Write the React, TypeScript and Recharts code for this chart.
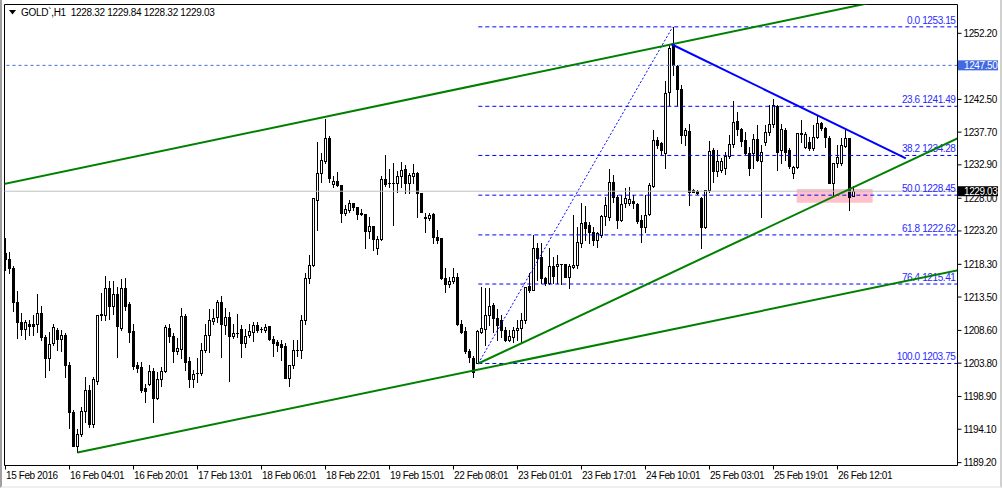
import React from 'react';
import { Bar, ComposedChart, ReferenceArea, ReferenceLine, XAxis, YAxis } from 'recharts';

// GOLD H1 candles (index 0 = 15 Feb 2016 12:01)
const opens = [
  1220.0, 1219.1, 1217.7, 1212.7, 1209.8, 1208.8, 1209.6, 1209.5, 1209.5, 1211.1,
  1207.7, 1204.5, 1206.7, 1208.6, 1207.3, 1207.9, 1203.6, 1196.7, 1191.7, 1193.4,
  1196.8, 1199.9, 1194.9, 1201.2, 1211.0, 1210.9, 1214.9, 1212.2, 1213.9, 1209.0,
  1214.9, 1212.5, 1208.5, 1203.5, 1203.2, 1200.2, 1200.8, 1202.6, 1198.7, 1201.5,
  1202.6, 1208.9, 1207.8, 1205.6, 1205.9, 1210.7, 1204.1, 1201.5, 1202.3, 1202.3,
  1205.8, 1207.9, 1210.0, 1210.5, 1212.8, 1209.4, 1210.5, 1207.8, 1208.2, 1208.8,
  1206.7, 1208.0, 1208.4, 1209.4, 1208.8, 1208.7, 1209.2, 1207.35, 1206.9, 1206.6,
  1206.3, 1201.6, 1203.5, 1205.7, 1205.7, 1210.2, 1216.25, 1218.2, 1227.8, 1231.75,
  1233.5, 1236.8, 1230.1, 1230.5, 1229.9, 1225.9, 1226.3, 1227.25, 1226.7, 1225.8,
  1225.65, 1223.2, 1223.9, 1220.65, 1222.0, 1230.8, 1230.3, 1230.3, 1230.3, 1231.2,
  1232.25, 1230.2, 1231.3, 1231.65, 1228.7, 1225.3, 1225.1, 1225.7, 1222.3, 1222.1,
  1216.25, 1215.4, 1215.9, 1216.5, 1209.5, 1208.5, 1205.65, 1204.6, 1203.8, 1208.4,
  1208.8, 1210.9, 1212.3, 1210.4, 1210.1, 1208.7, 1207.2, 1207.7, 1208.7, 1208.9,
  1210.1, 1215.1, 1214.6, 1220.65, 1219.4, 1216.25, 1215.5, 1218.1, 1218.1, 1218.3,
  1218.3, 1216.5, 1217.9, 1218.2, 1221.4, 1224.5, 1224.1, 1223.1, 1221.9, 1222.6,
  1225.4, 1225.25, 1230.4, 1228.2, 1224.8, 1227.25, 1227.25, 1227.6, 1227.1, 1224.8,
  1223.8, 1225.7, 1229.85, 1236.5, 1236.05, 1234.6, 1243.6, 1250.7, 1247.45, 1244.1,
  1237.3, 1237.9, 1229.2, 1229.05, 1228.0, 1223.8, 1229.2, 1235.1, 1232.0, 1232.15,
  1232.5, 1234.25, 1235.9, 1239.35, 1238.2, 1236.55, 1234.6, 1234.6, 1236.7, 1233.5,
  1236.3, 1237.75, 1238.85, 1241.5, 1235.1, 1238.0, 1235.1, 1231.75, 1232.6, 1237.6,
  1235.55, 1236.3, 1235.35, 1237.0, 1239.0, 1238.3, 1236.9, 1230.2, 1233.1, 1233.1,
  1235.7, 1236.8, 1228.32,
];
const highs = [
  1222.2, 1220.1, 1218.0, 1214.4, 1211.1, 1210.1, 1210.1, 1210.9, 1214.0, 1212.2,
  1207.9, 1208.3, 1209.6, 1208.9, 1208.6, 1208.2, 1204.0, 1196.9, 1194.1, 1197.4,
  1201.7, 1200.6, 1201.8, 1210.9, 1214.1, 1216.6, 1215.9, 1215.8, 1215.0, 1216.2,
  1216.3, 1212.7, 1209.6, 1204.0, 1203.9, 1200.7, 1203.5, 1203.1, 1202.5, 1203.3,
  1209.4, 1209.5, 1208.2, 1207.5, 1211.9, 1211.0, 1204.7, 1202.8, 1204.6, 1206.8,
  1209.5, 1211.7, 1211.7, 1213.0, 1213.7, 1211.85, 1211.35, 1209.6, 1211.0, 1209.4,
  1208.8, 1209.6, 1209.9, 1209.9, 1209.15, 1209.6, 1209.25, 1207.8, 1207.2, 1207.2,
  1206.7, 1203.5, 1207.2, 1207.2, 1210.9, 1217.1, 1219.7, 1228.0, 1236.2, 1234.6,
  1239.7, 1237.1, 1231.2, 1231.9, 1229.95, 1227.0, 1227.75, 1227.3, 1226.75, 1226.4,
  1225.7, 1225.3, 1223.95, 1222.45, 1231.2, 1234.35, 1232.25, 1233.1, 1232.0, 1233.3,
  1232.9, 1231.75, 1233.0, 1231.8, 1228.75, 1225.8, 1225.8, 1225.8, 1223.3, 1222.15,
  1217.7, 1216.5, 1217.7, 1217.1, 1210.1, 1209.15, 1205.9, 1204.85, 1208.7, 1215.0,
  1214.9, 1214.8, 1212.6, 1211.7, 1210.9, 1209.15, 1208.7, 1209.15, 1210.1, 1211.1,
  1215.0, 1217.0, 1222.6, 1221.4, 1221.4, 1216.5, 1220.65, 1219.4, 1219.7, 1218.35,
  1218.35, 1218.35, 1225.5, 1223.8, 1227.25, 1226.85, 1224.5, 1223.8, 1223.1, 1225.5,
  1228.2, 1232.25, 1231.4, 1228.5, 1228.5, 1229.45, 1229.7, 1228.5, 1227.25, 1225.5,
  1228.5, 1230.2, 1238.0, 1237.0, 1236.3, 1245.2, 1250.7, 1253.15, 1247.55, 1244.6,
  1238.3, 1238.85, 1229.35, 1229.2, 1228.2, 1229.2, 1236.4, 1235.35, 1235.1, 1233.85,
  1234.85, 1237.3, 1242.2, 1240.6, 1238.35, 1237.75, 1235.55, 1237.4, 1238.75, 1235.8,
  1238.75, 1241.7, 1242.6, 1241.7, 1238.9, 1238.3, 1235.4, 1232.7, 1237.6, 1239.5,
  1237.75, 1237.0, 1238.75, 1240.2, 1239.25, 1238.5, 1237.1, 1233.2, 1235.8, 1236.8,
  1238.0, 1236.9, 1229.84,
];
const lows = [
  1217.5, 1217.0, 1211.4, 1207.5, 1207.9, 1207.3, 1208.0, 1207.9, 1208.4, 1207.2,
  1201.8, 1202.8, 1206.5, 1205.7, 1205.6, 1201.7, 1194.3, 1191.6, 1190.7, 1193.1,
  1195.2, 1194.5, 1194.5, 1200.8, 1210.1, 1210.1, 1210.3, 1211.0, 1204.7, 1208.7,
  1211.6, 1206.9, 1203.0, 1202.5, 1199.6, 1198.1, 1200.6, 1195.2, 1198.6, 1200.4,
  1202.5, 1206.9, 1204.0, 1205.2, 1204.5, 1202.8, 1200.3, 1200.3, 1201.1, 1202.0,
  1205.5, 1205.5, 1209.5, 1209.9, 1204.7, 1208.1, 1201.2, 1207.5, 1207.7, 1204.7,
  1206.1, 1207.7, 1207.05, 1208.3, 1208.4, 1208.3, 1207.2, 1204.9, 1205.6, 1204.3,
  1201.55, 1200.5, 1203.1, 1204.85, 1204.5, 1209.6, 1215.6, 1218.0, 1223.4, 1230.4,
  1233.1, 1230.4, 1229.6, 1229.85, 1224.5, 1225.6, 1226.0, 1226.3, 1224.9, 1225.5,
  1220.65, 1222.1, 1220.4, 1219.8, 1221.9, 1229.8, 1229.7, 1224.1, 1228.95, 1229.7,
  1228.8, 1228.8, 1230.2, 1225.3, 1226.0, 1223.1, 1224.8, 1221.4, 1221.4, 1216.2,
  1214.3, 1215.0, 1215.5, 1209.45, 1208.25, 1205.25, 1204.0, 1201.8, 1203.75, 1208.2,
  1206.5, 1209.4, 1208.4, 1207.2, 1207.7, 1207.1, 1207.05, 1206.95, 1207.2, 1206.95,
  1209.65, 1214.3, 1214.5, 1216.0, 1215.5, 1215.3, 1215.4, 1215.5, 1215.5, 1215.4,
  1216.4, 1214.8, 1217.7, 1217.7, 1220.9, 1221.9, 1221.4, 1221.2, 1220.9, 1222.35,
  1224.1, 1224.8, 1227.5, 1223.7, 1224.6, 1226.75, 1227.0, 1226.5, 1224.3, 1221.6,
  1223.1, 1225.5, 1229.7, 1235.3, 1234.35, 1232.5, 1241.7, 1246.1, 1241.7, 1236.05,
  1235.8, 1227.0, 1228.85, 1228.6, 1220.75, 1223.6, 1228.95, 1230.4, 1231.2, 1231.9,
  1231.5, 1233.85, 1235.55, 1237.3, 1235.7, 1234.45, 1231.4, 1232.4, 1233.4, 1225.3,
  1235.8, 1237.3, 1238.5, 1232.15, 1233.1, 1233.6, 1232.4, 1230.9, 1232.4, 1236.3,
  1235.35, 1235.1, 1235.1, 1236.8, 1238.0, 1235.55, 1230.2, 1228.5, 1232.6, 1232.9,
  1235.55, 1226.3, 1228.32,
];
const closes = [
  1219.1, 1217.7, 1212.8, 1209.8, 1208.8, 1209.8, 1209.3, 1209.3, 1211.1, 1207.7,
  1204.5, 1206.6, 1209.1, 1207.3, 1207.9, 1203.6, 1196.7, 1191.7, 1193.4, 1196.8,
  1199.9, 1194.9, 1201.5, 1210.9, 1210.8, 1214.9, 1212.2, 1213.9, 1209.3, 1214.9,
  1212.2, 1208.4, 1203.4, 1203.1, 1199.9, 1199.7, 1202.6, 1198.7, 1201.5, 1202.6,
  1209.1, 1207.8, 1205.6, 1206.0, 1210.7, 1204.0, 1201.5, 1202.2, 1202.3, 1205.8,
  1207.9, 1210.1, 1210.4, 1212.8, 1209.5, 1210.6, 1207.8, 1208.2, 1208.2, 1206.7,
  1207.8, 1208.5, 1209.4, 1208.7, 1208.8, 1209.15, 1207.35, 1206.8, 1206.5, 1206.2,
  1201.6, 1203.5, 1205.8, 1205.8, 1210.2, 1216.25, 1218.2, 1228.0, 1231.65, 1233.6,
  1236.9, 1230.9, 1230.5, 1229.9, 1225.9, 1226.4, 1227.25, 1226.75, 1225.7, 1225.75,
  1223.2, 1223.9, 1222.0, 1222.0, 1230.8, 1230.1, 1230.3, 1230.3, 1231.2, 1232.1,
  1230.2, 1231.4, 1231.65, 1228.7, 1226.0, 1225.1, 1225.5, 1222.3, 1221.9, 1216.25,
  1215.4, 1215.9, 1216.5, 1209.5, 1208.4, 1205.6, 1204.7, 1202.5, 1208.45, 1208.9,
  1210.9, 1212.2, 1210.4, 1209.4, 1208.6, 1207.2, 1207.8, 1208.7, 1209.0, 1210.1,
  1215.0, 1214.5, 1220.65, 1219.3, 1216.25, 1215.5, 1218.1, 1216.6, 1218.35, 1218.3,
  1216.5, 1218.1, 1218.2, 1221.6, 1224.3, 1223.6, 1223.1, 1221.9, 1222.85, 1225.4,
  1227.0, 1230.4, 1228.2, 1224.8, 1227.1, 1228.0, 1227.85, 1227.25, 1224.7, 1223.8,
  1225.6, 1229.9, 1236.5, 1235.8, 1235.1, 1243.5, 1250.0, 1247.55, 1244.1, 1237.3,
  1238.0, 1228.95, 1228.95, 1228.7, 1223.8, 1229.2, 1234.9, 1232.0, 1233.4, 1233.5,
  1234.25, 1235.9, 1239.25, 1238.2, 1236.4, 1234.6, 1232.5, 1236.7, 1233.6, 1234.85,
  1237.75, 1238.85, 1241.7, 1234.85, 1238.1, 1234.8, 1232.7, 1232.6, 1237.5, 1237.4,
  1237.4, 1235.35, 1237.0, 1239.0, 1238.3, 1237.0, 1230.3, 1233.1, 1234.1, 1235.8,
  1236.8, 1228.2, 1229.03,
];

// time axis: bar index of each label
const timeTicks = [0, 16, 32, 48, 64, 80, 96, 112, 128, 144, 160, 176, 192, 208];
const timeLabels = [
  '15 Feb 2016', '16 Feb 04:01', '16 Feb 20:01', '17 Feb 13:01', '18 Feb 06:01',
  '18 Feb 22:01', '19 Feb 15:01', '22 Feb 08:01', '23 Feb 01:01', '23 Feb 17:01',
  '24 Feb 10:01', '25 Feb 03:01', '25 Feb 19:01', '26 Feb 12:01',
];

const priceTicks = [
  1252.2, 1247.3, 1242.5, 1237.7, 1232.9, 1228.0, 1223.2, 1218.3, 1213.5, 1208.6,
  1203.8, 1198.9, 1194.1, 1189.2,
];

// fibonacci retracement drawn from the 22 Feb low to the 24 Feb high
const fibPct = [0.0, 23.6, 38.2, 50.0, 61.8, 76.4, 100.0];
const fibPrice = [1253.15, 1241.49, 1234.28, 1228.45, 1222.62, 1215.41, 1203.75];
const fibStart = 118.2;

// trend lines, [bar index, price] pairs
const greenLines = [
  [[-2, 1229.9], [240, 1259.6]],
  [[18, 1190.7], [240, 1217.65]],
  [[118.2, 1203.75], [240, 1237.33]],
];
const blueLine = [[166.5, 1250.6], [225.1, 1233.86]];
const fibDiagonal = [[118.2, 1203.75], [166.8, 1253.15]];

const hLinePrice = 1247.5;
const lastPrice = 1229.03;
const pinkBox = { x1: 197.8, x2: 216.8, y1: 1227.35, y2: 1229.36 };

const xDomain = [-0.25, 238];
const yDomain = [1188.78, 1256.43];

const candles = opens.map((o, i) => ({ i, o, h: highs[i], l: lows[i], c: closes[i] }));
const last = candles[candles.length - 1];

const FONT = "'Liberation Sans', Arial, sans-serif";

const Candle = (props: any) => {
  const { x, y, width, height, payload } = props;
  if (x == null || y == null) return null;
  // snap to the pixel grid so wicks and bodies stay crisp
  const cx = Math.floor(x + width / 2) + 0.5;
  const top = Math.min(y, y + height);
  const span = Math.abs(height);
  const { o, h, l, c } = payload;
  const yOf = (v: number) => top + ((h - v) / (h - l || 1)) * span;
  const bTop = Math.round(yOf(Math.max(o, c))) + 0.5;
  const bBot = Math.round(yOf(Math.min(o, c))) + 0.5;
  return (
    <g>
      <line x1={cx} x2={cx} y1={Math.round(top)} y2={Math.round(top + span) + 1} stroke="#000" strokeWidth={1} />
      {bBot - bTop < 1 ? (
        <line x1={cx - 1.5} x2={cx + 1.5} y1={bTop} y2={bTop} stroke="#000" strokeWidth={1} />
      ) : (
        <rect x={cx - 1} y={bTop} width={2} height={bBot - bTop} fill={c >= o ? '#fff' : '#000'} stroke="#000" strokeWidth={1} />
      )}
    </g>
  );
};

const markers = [
  { price: hLinePrice, bg: '#4169e1' },
  { price: lastPrice, bg: '#000' },
];

const YTick = ({ x, y, payload }: any) => {
  const v = payload.value;
  const m = markers.find((k) => k.price === v);
  if (m) {
    return (
      <g>
        <rect x={x - 5.5} y={y - 5} width={40} height={10} fill={m.bg} />
        <text x={x + 0.5} y={y} dy="0.355em" fill="#fff" fontSize={10} fontFamily={FONT} letterSpacing={-0.4}>
          {v.toFixed(2)}
        </text>
      </g>
    );
  }
  return (
    <text x={x} y={y} dy="0.355em" fill="#000" fontSize={10} fontFamily={FONT} letterSpacing={-0.4}>
      {v.toFixed(2)}
    </text>
  );
};

const XTick = ({ x, y, payload }: any) => (
  <text x={x + 0.5} y={y} dy="0.71em" fill="#000" fontSize={10} fontFamily={FONT} letterSpacing={-0.4}>
    {timeLabels[timeTicks.indexOf(payload.value)]}
  </text>
);

const FibLabel = ({ viewBox, text }: any) => {
  if (!viewBox) return null;
  return (
    <text
      x={viewBox.x + viewBox.width - 2}
      y={viewBox.y - 3}
      textAnchor="end"
      fill="#2a2aff"
      fontSize={10}
      fontFamily={FONT}
      letterSpacing={-0.4}
    >
      {text}
    </text>
  );
};

const seg = (pts: number[][]) => pts.map(([x, y]) => ({ x, y }));

export default function App() {
  return (
    <div
      style={{
        position: 'absolute',
        left: 0,
        top: 0,
        width: 1002,
        height: 488,
        background: '#fff',
        boxSizing: 'border-box',
        borderLeft: '2px solid #a0a0a0',
        borderRight: '2px solid #d0d0d0',
        borderBottom: '2px solid #f0f0f0',
      }}
    >
      <div style={{ position: 'absolute', left: -2, top: 0 }}>
        <ComposedChart
          width={1002}
          height={488}
          data={candles}
          margin={{ top: 4.5, left: 4.5, right: 0, bottom: 0 }}
        >
          <XAxis
            dataKey="i"
            type="number"
            domain={xDomain}
            allowDataOverflow
            ticks={timeTicks}
            interval={0}
            tickSize={4}
            height={22.5}
            stroke="#000"
            tick={<XTick />}
          />
          <YAxis
            orientation="right"
            type="number"
            domain={yDomain}
            allowDataOverflow
            ticks={[...priceTicks, hLinePrice, lastPrice]}
            interval={0}
            tickSize={4}
            width={44.5}
            stroke="#000"
            tick={<YTick />}
          />
          <ReferenceArea {...pinkBox} fill="#ffc0cb" fillOpacity={1} stroke="none" />
          <ReferenceLine y={yDomain[1]} stroke="#000" />
          <ReferenceLine x={xDomain[0]} stroke="#000" />
          <ReferenceLine y={hLinePrice} stroke="#4169e1" strokeDasharray="3 3" />
          <ReferenceLine y={lastPrice} stroke="#c0c0c0" />
          {fibPrice.map((p, k) => (
            <ReferenceLine
              key={'fib' + k}
              segment={[{ x: fibStart, y: p }, { x: xDomain[1], y: p }]}
              stroke="#0000ff"
              strokeDasharray="4 3"
              ifOverflow="visible"
              label={<FibLabel text={`${fibPct[k].toFixed(1)} ${p.toFixed(2)}`} />}
            />
          ))}
          <ReferenceLine segment={seg(fibDiagonal)} stroke="#0000ff" strokeDasharray="2 2" ifOverflow="hidden" />
          <Bar dataKey={(d: any) => [d.l, d.h]} barSize={3} shape={<Candle />} isAnimationActive={false} />
          {greenLines.map((ln, k) => (
            <ReferenceLine key={'g' + k} segment={seg(ln)} stroke="#008000" strokeWidth={2} ifOverflow="hidden" />
          ))}
          <ReferenceLine segment={seg(blueLine)} stroke="#0000ff" strokeWidth={2} ifOverflow="hidden" />
        </ComposedChart>
      </div>
      <div
        style={{
          position: 'absolute',
          left: 7,
          top: 7,
          fontFamily: FONT,
          fontSize: 10,
          letterSpacing: -0.3,
          color: '#000',
          display: 'flex',
          alignItems: 'center',
          whiteSpace: 'pre',
        }}
      >
        <svg width={7} height={5} style={{ marginRight: 5 }}>
          <polygon points="0,0 7,0 3.5,4.5" fill="#000" />
        </svg>
        {`GOLD\`,H1  ${last.o.toFixed(2)} ${last.h.toFixed(2)} ${last.l.toFixed(2)} ${last.c.toFixed(2)}`}
      </div>
    </div>
  );
}
